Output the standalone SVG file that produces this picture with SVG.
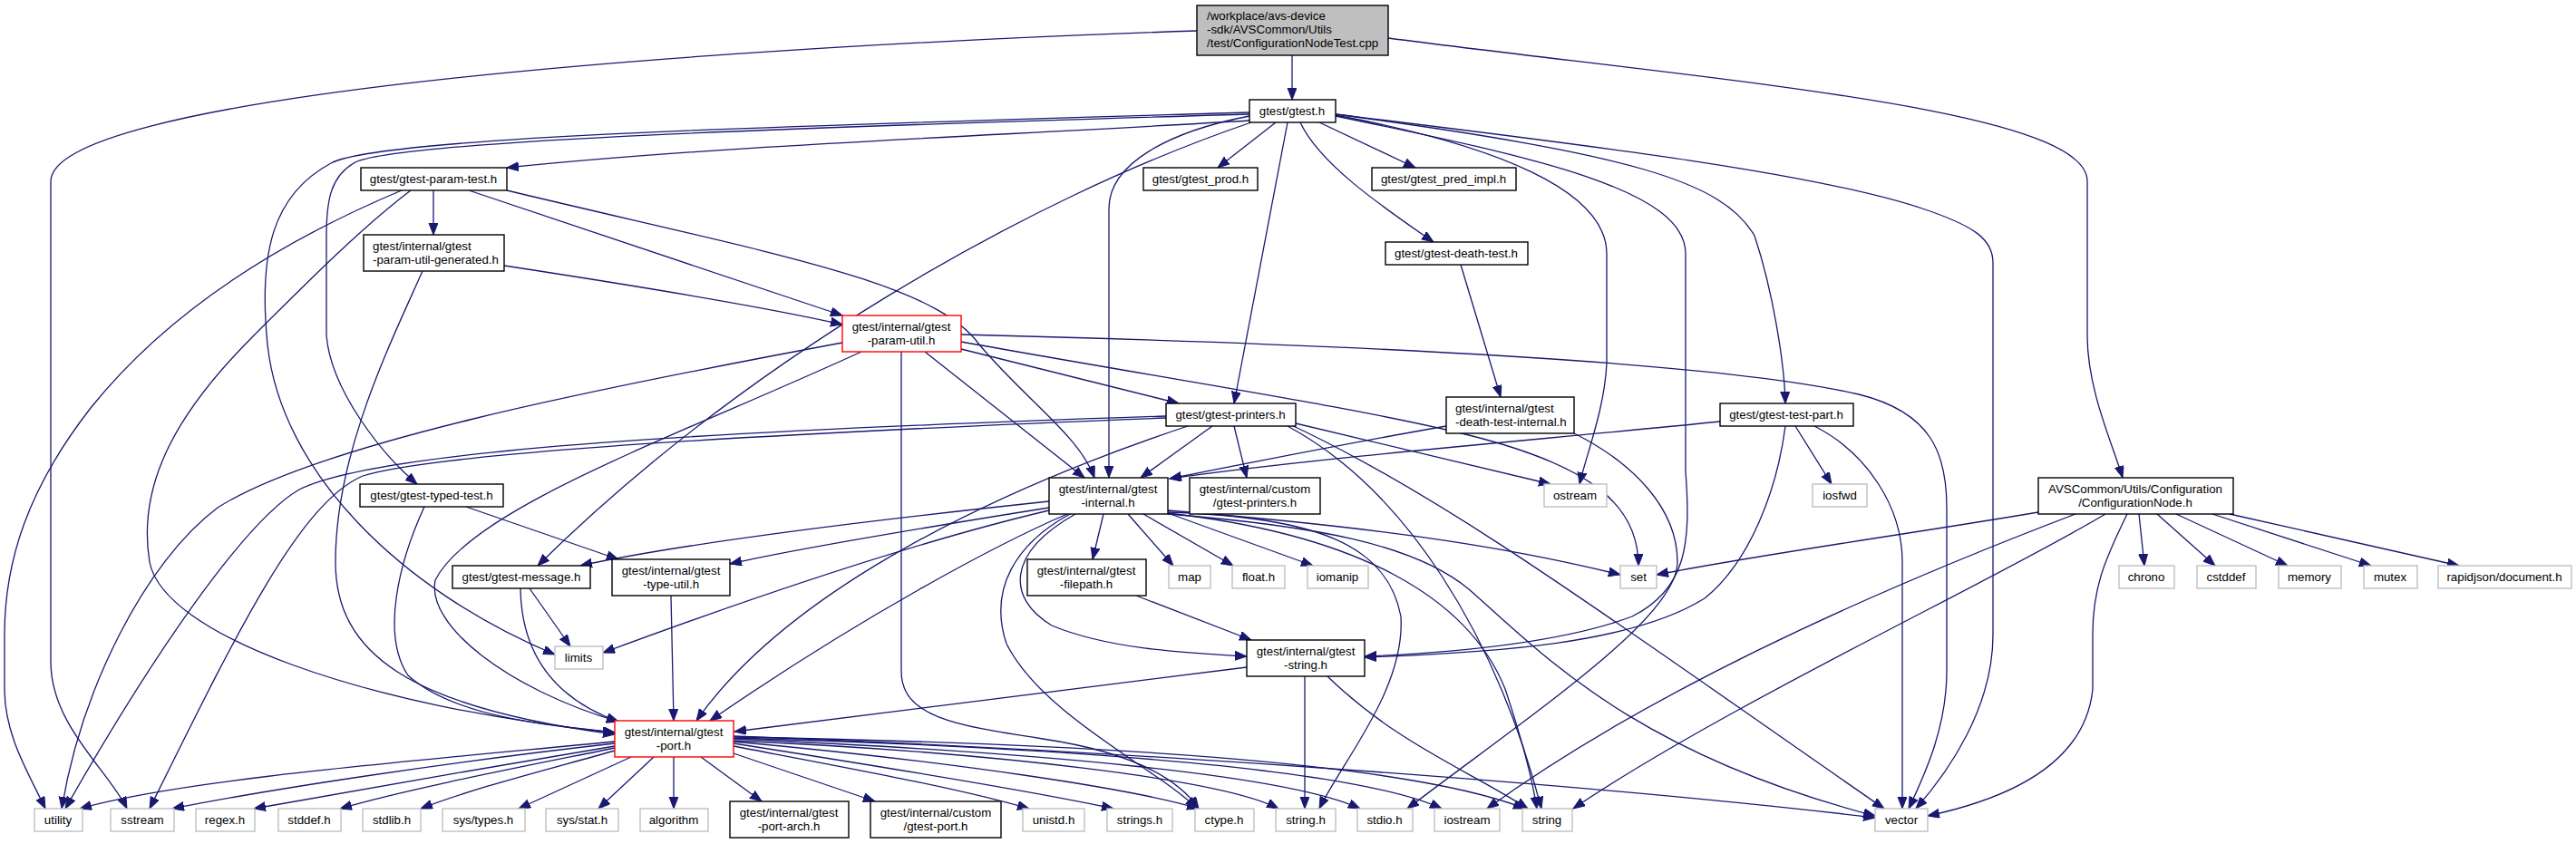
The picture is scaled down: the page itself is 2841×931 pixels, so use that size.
<svg xmlns="http://www.w3.org/2000/svg" width="2841" height="931" viewBox="0 0 2841 931">
<style>
.e path{fill:none;stroke:#191970;stroke-width:1.3;marker-end:url(#a)}
.node rect{fill:#fff;stroke:#000;stroke-width:1.4}
.node.x rect{stroke:#bfbfbf}
.node.r rect{stroke:#ff0000}
.node.root rect{fill:#bfbfbf}
text{font-family:"Liberation Sans",Arial,Helvetica,sans-serif;font-size:13.3px;fill:#000}
.m{text-anchor:middle}
</style>
<defs>
<marker id="a" markerWidth="14" markerHeight="11" refX="13" refY="5" orient="auto" markerUnits="userSpaceOnUse"><path d="M0,0 L13,5 L0,10 z" fill="#191970" stroke="#191970" stroke-width="1"/></marker>
</defs>
<rect width="2841" height="931" fill="#fff"/>
<g class="e" id="edges">
<path d="M1425,61 L1425,110"/>
<path d="M1320,34 C700,55 56,110 56,200 L56,730 C56,800 120,850 140,892"/>
<path d="M1531,42 C1900,90 2302,120 2302,200 L2302,370 C2302,430 2330,490 2341,527"/>
<path d="M1407,135 L1343,185"/>
<path d="M1455,135 L1561,185"/>
<path d="M1434,135 C1455,180 1520,225 1581,267"/>
<path d="M1420,135 L1361,445"/>
<path d="M1378,128 C1290,145 1223,180 1223,230 L1223,527"/>
<path d="M1380,135 C1130,220 820,400 593,624"/>
<path d="M1378,133 C1100,150 800,160 559,185"/>
<path d="M1378,124 C900,138 420,150 365,180 C300,215 285,280 295,380 C310,520 440,650 612,722"/>
<path d="M1378,126 C900,140 430,155 390,180 C365,195 360,220 360,260 L360,370 C365,430 420,500 460,534"/>
<path d="M1473,127 C1650,160 1772,210 1772,280 L1772,400 C1770,450 1750,500 1742,534"/>
<path d="M1473,128 C1700,175 1859,210 1859,280 L1859,520 C1865,600 1860,650 1800,680 C1720,710 1600,720 1505,724"/>
<path d="M1473,126 C1800,170 1900,200 1935,260 C1955,320 1968,400 1969,445"/>
<path d="M1473,126 C1750,160 2000,190 2120,230 C2180,250 2198,265 2198,290 L2198,700 C2198,780 2150,850 2113,892"/>
<path d="M478,210 L478,259"/>
<path d="M443,210 C300,270 180,350 100,450 C30,540 5,620 5,700 L5,760 C5,810 30,850 50,892"/>
<path d="M453,210 C400,250 340,310 280,370 C200,450 150,530 165,620 C180,700 400,780 678,808"/>
<path d="M517,210 L929,348"/>
<path d="M559,210 C850,280 1030,310 1080,380 C1130,440 1190,480 1207,527"/>
<path d="M556,293 C700,315 850,340 929,358"/>
<path d="M466,299 C430,380 370,500 370,620 C370,720 450,780 678,810"/>
<path d="M929,378 C650,430 350,490 240,560 C160,620 90,760 68,892"/>
<path d="M950,388 C750,480 520,560 480,640 C470,690 560,760 682,796"/>
<path d="M994,388 L994,740 C994,790 1050,800 1150,815 C1250,830 1300,860 1322,892"/>
<path d="M1020,388 L1196,527"/>
<path d="M1060,385 L1300,445"/>
<path d="M1060,377 C1300,420 1500,450 1620,480 C1760,515 1807,560 1807,624"/>
<path d="M1060,369 C1500,380 1900,400 2050,435 C2130,455 2147,500 2147,560 L2147,740 C2147,800 2125,850 2105,892"/>
<path d="M1286,459 C800,475 420,495 330,540 C270,575 170,720 72,892"/>
<path d="M1286,461 C850,478 480,500 400,525 C330,555 260,700 165,892"/>
<path d="M1310,470 C1100,540 870,650 768,795"/>
<path d="M1337,470 L1258,527"/>
<path d="M1361,470 L1375,527"/>
<path d="M1429,467 L1710,534"/>
<path d="M1420,470 C1550,540 1650,700 1700,892"/>
<path d="M1420,467 C1600,550 1800,700 2078,892"/>
<path d="M1157,553 C950,575 750,600 640,624"/>
<path d="M1157,560 C1000,585 880,605 805,622"/>
<path d="M1157,563 C1000,600 800,670 665,720"/>
<path d="M1177,567 C1100,600 950,680 783,795"/>
<path d="M1217,567 L1205,617"/>
<path d="M1244,567 L1294,624"/>
<path d="M1261,567 L1360,624"/>
<path d="M1288,566 L1448,624"/>
<path d="M1288,563 C1500,580 1650,600 1787,634"/>
<path d="M1288,565 C1450,570 1530,600 1545,680 C1550,760 1480,840 1455,892"/>
<path d="M1180,567 C1120,600 1090,650 1110,710 C1150,790 1280,850 1320,892"/>
<path d="M1186,567 C1110,610 1110,660 1160,690 C1220,715 1300,720 1375,724"/>
<path d="M1288,566 C1500,590 1620,660 1660,760 C1680,820 1690,860 1695,892"/>
<path d="M1288,567 C1450,580 1560,600 1620,650 C1700,720 1800,830 2068,900"/>
<path d="M1253,657 L1380,706"/>
<path d="M1375,736 L810,807"/>
<path d="M1439,746 L1439,892"/>
<path d="M1464,746 C1540,820 1620,850 1685,892"/>
<path d="M740,657 L743,795"/>
<path d="M584,649 L629,713"/>
<path d="M574,649 C575,720 610,770 682,796"/>
<path d="M514,559 L682,617"/>
<path d="M468,559 C440,620 420,700 450,745 C500,790 600,800 678,808"/>
<path d="M1611,292 L1655,438"/>
<path d="M1595,470 C1480,490 1380,510 1290,528"/>
<path d="M1736,478 C1800,510 1850,560 1850,620 C1850,680 1700,780 1552,892"/>
<path d="M1980,470 L2020,534"/>
<path d="M2001,470 C2060,500 2098,560 2098,620 L2098,892"/>
<path d="M1897,465 C1700,485 1450,505 1290,528"/>
<path d="M1969,470 C1960,540 1930,620 1880,660 C1800,710 1650,720 1505,725"/>
<path d="M2248,565 C2100,590 1950,610 1827,634"/>
<path d="M2289,567 C2150,620 1850,740 1640,892"/>
<path d="M2322,567 C2200,640 1900,780 1735,892"/>
<path d="M2346,567 C2320,620 2308,650 2308,700 L2308,760 C2300,840 2220,880 2126,900"/>
<path d="M2359,567 L2365,624"/>
<path d="M2379,567 L2443,624"/>
<path d="M2400,567 L2523,624"/>
<path d="M2440,567 L2615,624"/>
<path d="M2459,567 L2712,624"/>
<path d="M678,818 C450,840 200,860 88,892"/>
<path d="M678,820 C500,840 300,870 190,892"/>
<path d="M678,823 C550,845 400,870 280,892"/>
<path d="M678,825 C580,845 450,870 375,892"/>
<path d="M678,828 C600,850 520,870 464,892"/>
<path d="M696,835 L572,892"/>
<path d="M721,835 L660,892"/>
<path d="M743,835 L743,892"/>
<path d="M773,835 L840,884"/>
<path d="M809,831 L965,884"/>
<path d="M809,823 C950,850 1060,870 1135,892"/>
<path d="M809,820 C1000,850 1150,875 1228,892"/>
<path d="M809,818 C1050,840 1250,870 1322,892"/>
<path d="M809,817 C1100,830 1350,860 1410,892"/>
<path d="M809,815 C1150,830 1420,855 1500,892"/>
<path d="M809,814 C1200,825 1500,850 1590,892"/>
<path d="M809,813 C1200,820 1550,840 1682,892"/>
<path d="M809,812 C1300,830 1800,870 2068,902"/>
</g>
<g id="n0" class="node root"><rect x="1320" y="6" width="211" height="55"/><text x="1331" y="21.5">/workplace/avs-device</text><text x="1331" y="36.5">-sdk/AVSCommon/Utils</text><text x="1331" y="51.5">/test/ConfigurationNodeTest.cpp</text></g>
<g id="n1" class="node"><rect x="1378" y="110" width="95" height="25"/><text class="m" x="1425" y="127">gtest/gtest.h</text></g>
<g id="n2" class="node"><rect x="398" y="185" width="161" height="25"/><text class="m" x="478" y="202">gtest/gtest-param-test.h</text></g>
<g id="n3" class="node"><rect x="401" y="259" width="155" height="40"/><text x="411" y="276">gtest/internal/gtest</text><text x="411" y="291">-param-util-generated.h</text></g>
<g id="n4" class="node"><rect x="1261" y="185" width="126" height="25"/><text class="m" x="1324" y="202">gtest/gtest_prod.h</text></g>
<g id="n5" class="node"><rect x="1513" y="185" width="159" height="25"/><text class="m" x="1592" y="202">gtest/gtest_pred_impl.h</text></g>
<g id="n6" class="node"><rect x="1528" y="267" width="157" height="25"/><text class="m" x="1606" y="284">gtest/gtest-death-test.h</text></g>
<g id="n7" class="node r"><rect x="929" y="348" width="131" height="40"/><text class="m" x="994" y="365">gtest/internal/gtest</text><text class="m" x="994" y="380">-param-util.h</text></g>
<g id="n8" class="node"><rect x="1286" y="445" width="143" height="25"/><text class="m" x="1357" y="462">gtest/gtest-printers.h</text></g>
<g id="n9" class="node"><rect x="1157" y="527" width="131" height="40"/><text class="m" x="1222" y="544">gtest/internal/gtest</text><text class="m" x="1222" y="559">-internal.h</text></g>
<g id="n10" class="node"><rect x="1312" y="527" width="144" height="40"/><text class="m" x="1384" y="544">gtest/internal/custom</text><text class="m" x="1384" y="559">/gtest-printers.h</text></g>
<g id="n11" class="node"><rect x="1595" y="438" width="141" height="40"/><text x="1605" y="455">gtest/internal/gtest</text><text x="1605" y="470">-death-test-internal.h</text></g>
<g id="n12" class="node"><rect x="1897" y="445" width="147" height="25"/><text class="m" x="1970" y="462">gtest/gtest-test-part.h</text></g>
<g id="n13" class="node x"><rect x="1703" y="534" width="69" height="25"/><text class="m" x="1737" y="551">ostream</text></g>
<g id="n14" class="node x"><rect x="1999" y="534" width="60" height="25"/><text class="m" x="2029" y="551">iosfwd</text></g>
<g id="n15" class="node"><rect x="2248" y="527" width="215" height="40"/><text class="m" x="2355" y="544">AVSCommon/Utils/Configuration</text><text class="m" x="2355" y="559">/ConfigurationNode.h</text></g>
<g id="n16" class="node"><rect x="397" y="534" width="158" height="25"/><text class="m" x="476" y="551">gtest/gtest-typed-test.h</text></g>
<g id="n17" class="node"><rect x="499" y="624" width="152" height="25"/><text class="m" x="575" y="641">gtest/gtest-message.h</text></g>
<g id="n18" class="node"><rect x="675" y="617" width="130" height="40"/><text class="m" x="740" y="634">gtest/internal/gtest</text><text class="m" x="740" y="649">-type-util.h</text></g>
<g id="n19" class="node x"><rect x="612" y="713" width="53" height="25"/><text class="m" x="638" y="730">limits</text></g>
<g id="n20" class="node r"><rect x="678" y="795" width="131" height="40"/><text class="m" x="743" y="812">gtest/internal/gtest</text><text class="m" x="743" y="827">-port.h</text></g>
<g id="n21" class="node"><rect x="1133" y="617" width="131" height="40"/><text class="m" x="1198" y="634">gtest/internal/gtest</text><text class="m" x="1198" y="649">-filepath.h</text></g>
<g id="n22" class="node x"><rect x="1289" y="624" width="46" height="25"/><text class="m" x="1312" y="641">map</text></g>
<g id="n23" class="node x"><rect x="1359" y="624" width="58" height="25"/><text class="m" x="1388" y="641">float.h</text></g>
<g id="n24" class="node x"><rect x="1442" y="624" width="67" height="25"/><text class="m" x="1475" y="641">iomanip</text></g>
<g id="n25" class="node x"><rect x="1787" y="624" width="40" height="25"/><text class="m" x="1807" y="641">set</text></g>
<g id="n26" class="node"><rect x="1375" y="706" width="130" height="40"/><text class="m" x="1440" y="723">gtest/internal/gtest</text><text class="m" x="1440" y="738">-string.h</text></g>
<g id="n27" class="node x"><rect x="38" y="892" width="53" height="25"/><text class="m" x="64" y="909">utility</text></g>
<g id="n28" class="node x"><rect x="122" y="892" width="70" height="25"/><text class="m" x="157" y="909">sstream</text></g>
<g id="n29" class="node x"><rect x="216" y="892" width="65" height="25"/><text class="m" x="248" y="909">regex.h</text></g>
<g id="n30" class="node x"><rect x="307" y="892" width="69" height="25"/><text class="m" x="341" y="909">stddef.h</text></g>
<g id="n31" class="node x"><rect x="400" y="892" width="64" height="25"/><text class="m" x="432" y="909">stdlib.h</text></g>
<g id="n32" class="node x"><rect x="488" y="892" width="91" height="25"/><text class="m" x="533" y="909">sys/types.h</text></g>
<g id="n33" class="node x"><rect x="602" y="892" width="80" height="25"/><text class="m" x="642" y="909">sys/stat.h</text></g>
<g id="n34" class="node x"><rect x="706" y="892" width="75" height="25"/><text class="m" x="743" y="909">algorithm</text></g>
<g id="n35" class="node"><rect x="805" y="884" width="131" height="40"/><text class="m" x="870" y="901">gtest/internal/gtest</text><text class="m" x="870" y="916">-port-arch.h</text></g>
<g id="n36" class="node"><rect x="960" y="884" width="144" height="40"/><text class="m" x="1032" y="901">gtest/internal/custom</text><text class="m" x="1032" y="916">/gtest-port.h</text></g>
<g id="n37" class="node x"><rect x="1128" y="892" width="68" height="25"/><text class="m" x="1162" y="909">unistd.h</text></g>
<g id="n38" class="node x"><rect x="1221" y="892" width="72" height="25"/><text class="m" x="1257" y="909">strings.h</text></g>
<g id="n39" class="node x"><rect x="1318" y="892" width="65" height="25"/><text class="m" x="1350" y="909">ctype.h</text></g>
<g id="n40" class="node x"><rect x="1407" y="892" width="66" height="25"/><text class="m" x="1440" y="909">string.h</text></g>
<g id="n41" class="node x"><rect x="1497" y="892" width="61" height="25"/><text class="m" x="1527" y="909">stdio.h</text></g>
<g id="n42" class="node x"><rect x="1582" y="892" width="72" height="25"/><text class="m" x="1618" y="909">iostream</text></g>
<g id="n43" class="node x"><rect x="1679" y="892" width="55" height="25"/><text class="m" x="1706" y="909">string</text></g>
<g id="n44" class="node x"><rect x="2068" y="892" width="58" height="25"/><text class="m" x="2097" y="909">vector</text></g>
<g id="n45" class="node x"><rect x="2337" y="624" width="61" height="25"/><text class="m" x="2367" y="641">chrono</text></g>
<g id="n46" class="node x"><rect x="2423" y="624" width="65" height="25"/><text class="m" x="2455" y="641">cstddef</text></g>
<g id="n47" class="node x"><rect x="2513" y="624" width="69" height="25"/><text class="m" x="2547" y="641">memory</text></g>
<g id="n48" class="node x"><rect x="2607" y="624" width="59" height="25"/><text class="m" x="2636" y="641">mutex</text></g>
<g id="n49" class="node x"><rect x="2689" y="624" width="147" height="25"/><text class="m" x="2762" y="641">rapidjson/document.h</text></g>
</svg>
